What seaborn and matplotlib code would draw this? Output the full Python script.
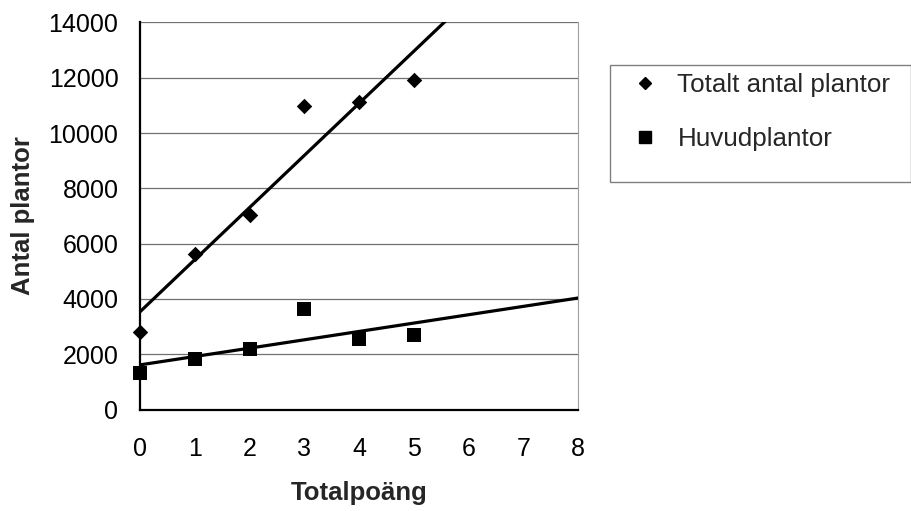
import numpy as np
import pandas as pd
import seaborn as sns
import matplotlib.pyplot as plt
from matplotlib.patches import Rectangle

# === Datos ===
totalpoang = [0, 1, 2, 3, 4, 5]
totalt_antal = [2800, 5640, 7030, 10970, 11130, 11910]
huvudplantor = [1320, 1820, 2190, 3630, 2550, 2710]
x_ticks = [0, 1, 2, 3, 4, 5, 6, 7, 8]
y_ticks = [0, 2000, 4000, 6000, 8000, 10000, 12000, 14000]

df = pd.DataFrame({'Totalpoäng': totalpoang,
                   'Totalt antal plantor': totalt_antal,
                   'Huvudplantor': huvudplantor})

sns.set_style("white")
plt.rcParams['font.family'] = ['Liberation Sans', 'DejaVu Sans']

fig = plt.figure(figsize=(9.12, 5.11), dpi=100)
ax = fig.add_axes([140 / 912, 1 - 409.5 / 511, 438 / 912, 387 / 511])
ax.set_xlim(0, 8)
ax.set_ylim(0, 14000)

# === Series con línea de tendencia lineal ===
sns.regplot(data=df, x='Totalpoäng', y='Totalt antal plantor', ax=ax,
            ci=None, truncate=False, marker='D', color='black',
            scatter_kws={'s': 62, 'alpha': 1, 'clip_on': False, 'zorder': 4,
                         'linewidths': 0},
            line_kws={'lw': 2.3, 'zorder': 3}, label='Totalt antal plantor')
sns.regplot(data=df, x='Totalpoäng', y='Huvudplantor', ax=ax,
            ci=None, truncate=False, marker='s', color='black',
            scatter_kws={'s': 95, 'alpha': 1, 'clip_on': False, 'zorder': 4,
                         'linewidths': 0},
            line_kws={'lw': 2.3, 'zorder': 3}, label='Huvudplantor')

ax.set_xlim(0, 8)
ax.set_ylim(0, 14000)
ax.set_xticks(x_ticks)
ax.set_yticks(y_ticks)
ax.yaxis.grid(True, color='#707070', lw=0.9)
ax.set_axisbelow(True)

ax.spines['top'].set_visible(False)
ax.spines['right'].set_color('#a0a0a0')
ax.spines['right'].set_linewidth(0.8)
ax.spines['left'].set_color('black')
ax.spines['left'].set_linewidth(1.6)
ax.spines['bottom'].set_color('black')
ax.spines['bottom'].set_linewidth(1.6)

ax.tick_params(axis='both', direction='out', length=5.5, width=0.9,
               color='#606060', labelsize=18, labelcolor='black')
ax.tick_params(axis='y', pad=10)
ax.tick_params(axis='x', pad=14)
ax.set_xlabel('Totalpoäng', fontsize=18.5, fontweight='bold', labelpad=15)
ax.set_ylabel('Antal plantor', fontsize=18.5, fontweight='bold', labelpad=10)

# === Leyenda ===
handles = [plt.Line2D([], [], ls='', marker='D', color='black', ms=6.4),
           plt.Line2D([], [], ls='', marker='s', color='black', ms=8)]
fig.legend(handles, ['Totalt antal plantor', 'Huvudplantor'],
           loc='upper left', bbox_to_anchor=(632 / 912, 1 - 73 / 511),
           frameon=False, fontsize=18.7, handlelength=1.0, handletextpad=0.75,
           borderpad=0, borderaxespad=0, labelspacing=1.15)
fig.add_artist(Rectangle((610 / 912, 1 - 182 / 511), 301 / 912, 117 / 511,
                         transform=fig.transFigure, fill=False,
                         edgecolor='#808080', lw=1.0))

fig.savefig('out.png', dpi=100)
